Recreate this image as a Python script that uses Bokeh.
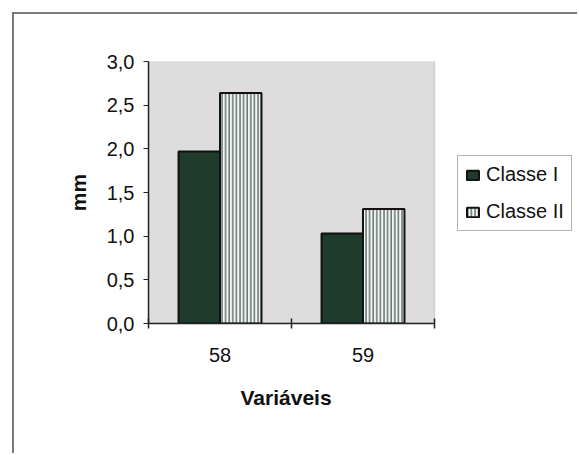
from bokeh.plotting import figure
from bokeh.models import (Range1d, FixedTicker, ColumnDataSource, Legend, LegendItem,
                          BoxAnnotation, Title)
from bokeh.embed import file_html
from bokeh.resources import INLINE

categories = ["58", "59"]
classe_i = [1.97, 1.03]
classe_ii = [2.64, 1.31]
series_names = ["Classe I", "Classe II"]
y_ticks = [0.0, 0.5, 1.0, 1.5, 2.0, 2.5, 3.0]
y_tick_labels = ["0,0", "0,5", "1,0", "1,5", "2,0", "2,5", "3,0"]
x_title = "Variáveis"
y_title = "mm"

FONT = "Liberation Sans"
BAR_W = 0.29
N = len(categories)
Y_MAX = 3.0
# frame spans to the right edge so the legend is not clipped;
# the plot area proper covers x in [0, N]
X_END = N * (579 - 148) / (434 - 148)

p = figure(width=565, height=441, output_backend="svg", toolbar_location=None,
           x_range=Range1d(0, X_END), y_range=Range1d(0, Y_MAX))
p.margin = (12, 0, 0, 12)
p.styles = {"border-left": "2px solid #7a7a7a", "border-top": "2px solid #7a7a7a"}
p.min_border_left = 134
p.min_border_right = 0
p.min_border_top = 47
p.min_border_bottom = 132
p.background_fill_color = "white"
p.border_fill_color = "white"
p.outline_line_color = None
p.xgrid.visible = False
p.ygrid.visible = False

area = BoxAnnotation(left=0, right=N, bottom=0, top=Y_MAX,
                     fill_color="#dddddd", fill_alpha=1,
                     line_color="#8a8a8a", line_width=1.5, level="underlay")
p.add_layout(area)

centers = [i + 0.5 for i in range(N)]
src = ColumnDataSource(dict(
    cat=categories,
    x1=[c - BAR_W / 2 for c in centers],
    x2=[c + BAR_W / 2 for c in centers],
    v1=classe_i, v2=classe_ii))

r1 = p.vbar(x="x1", top="v1", width=BAR_W, bottom=0, source=src,
            fill_color="#1f3b2b", line_color="#111111", line_width=2)
r2 = p.vbar(x="x2", top="v2", width=BAR_W, bottom=0, source=src,
            fill_color="#f4f4f4", line_color="#111111", line_width=2,
            hatch_pattern="vertical_line", hatch_color="#4f6357",
            hatch_scale=3.6, hatch_weight=1.3)

# x axis: labels at centers, tick marks at category boundaries
xa = p.xaxis[0]
xa.bounds = (0, N)
xa.ticker = FixedTicker(ticks=centers, minor_ticks=list(range(N + 1)))
xa.major_label_overrides = {c: lab for c, lab in zip(centers, categories)}
xa.major_tick_line_color = None
xa.major_tick_out = 0
xa.major_tick_in = 0
xa.minor_tick_line_color = "#222222"
xa.minor_tick_out = 5
xa.minor_tick_in = 5
xa.minor_tick_line_width = 1.5
xa.axis_line_color = "#222222"
xa.axis_line_width = 1.5
xa.major_label_text_font = FONT
xa.major_label_text_font_size = "20px"
xa.major_label_text_color = "#111111"
xa.major_label_standoff = 19

# x-axis title, centred under the plot area (not under the whole frame)
xt = Title(text=x_title, align="left", offset=92, standoff=38,
           text_font=FONT, text_font_style="bold", text_font_size="21px",
           text_color="#111111")
p.add_layout(xt, "below")

ya = p.yaxis[0]
ya.ticker = FixedTicker(ticks=y_ticks, minor_ticks=[])
ya.major_label_overrides = {t: lab for t, lab in zip(y_ticks, y_tick_labels)}
ya.major_tick_out = 5
ya.major_tick_in = 0
ya.major_tick_line_color = "#222222"
ya.major_tick_line_width = 1.2
ya.axis_line_color = "#222222"
ya.axis_line_width = 1.5
ya.major_label_text_font = FONT
ya.major_label_text_font_size = "20px"
ya.major_label_text_color = "#111111"
ya.major_label_standoff = 9
ya.axis_label = y_title
ya.axis_label_text_font = FONT
ya.axis_label_text_font_style = "bold"
ya.axis_label_text_font_size = "21px"
ya.axis_label_text_color = "#111111"
ya.axis_label_standoff = 14

legend = Legend(items=[LegendItem(label=series_names[0], renderers=[r1]),
                       LegendItem(label=series_names[1], renderers=[r2])],
                location=(309, 92))
legend.label_text_font = FONT
legend.label_text_font_size = "20px"
legend.label_text_color = "#111111"
legend.glyph_width = 15
legend.glyph_height = 12
legend.label_standoff = 6
legend.label_height = 22
legend.spacing = 14
legend.padding = 7
legend.margin = 0
legend.border_line_color = "#666666"
legend.border_line_width = 1.5
legend.background_fill_color = "white"
legend.background_fill_alpha = 1
p.add_layout(legend, "center")

open("out.html", "w").write(file_html(p, INLINE))
